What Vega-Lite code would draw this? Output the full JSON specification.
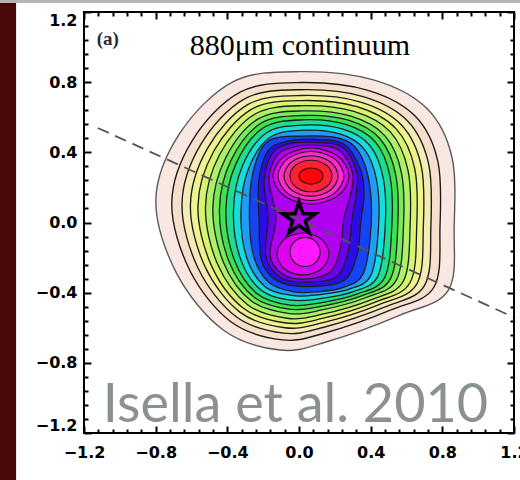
{
"$schema":"https://vega.github.io/schema/vega-lite/v6.json",
"autosize":{"type":"none"},
"width":430,"height":421,
"padding":{"left":84,"top":12,"right":6,"bottom":47},
"background":"white",
"config":{"view":{"stroke":"black","strokeWidth":2},"axis":{"grid":false}},
"datasets":{
"decor":[{"part":"strip","x0":-1.67,"x1":-1.579,"y0":1.2514,"y1":-1.47},{"part":"band","x0":-1.67,"x1":1.3,"y0":1.2685,"y1":1.2514}],
"contours":[
{"k":"L01","i":1,"x":0.006,"y":0.86},{"k":"L01","i":2,"x":0.415,"y":0.813},{"k":"L01","i":3,"x":0.713,"y":0.651},{"k":"L01","i":4,"x":0.853,"y":0.375},{"k":"L01","i":5,"x":0.866,"y":-0.024},{"k":"L01","i":6,"x":0.834,"y":-0.385},{"k":"L01","i":7,"x":0.564,"y":-0.528},{"k":"L01","i":8,"x":0.155,"y":-0.68},{"k":"L01","i":9,"x":-0.106,"y":-0.727},{"k":"L01","i":10,"x":-0.423,"y":-0.613},{"k":"L01","i":11,"x":-0.683,"y":-0.29},{"k":"L01","i":12,"x":-0.799,"y":0.128},{"k":"L01","i":13,"x":-0.665,"y":0.509},{"k":"L01","i":14,"x":-0.367,"y":0.803},
{"k":"L02","i":1,"x":0.009,"y":0.798},{"k":"L02","i":2,"x":0.38,"y":0.755},{"k":"L02","i":3,"x":0.648,"y":0.607},{"k":"L02","i":4,"x":0.775,"y":0.349},{"k":"L02","i":5,"x":0.787,"y":-0.024},{"k":"L02","i":6,"x":0.753,"y":-0.369},{"k":"L02","i":7,"x":0.51,"y":-0.5},{"k":"L02","i":8,"x":0.145,"y":-0.63},{"k":"L02","i":9,"x":-0.093,"y":-0.669},{"k":"L02","i":10,"x":-0.38,"y":-0.566},{"k":"L02","i":11,"x":-0.61,"y":-0.272},{"k":"L02","i":12,"x":-0.71,"y":0.115},{"k":"L02","i":13,"x":-0.594,"y":0.47},{"k":"L02","i":14,"x":-0.329,"y":0.743},
{"k":"L03","i":1,"x":0.011,"y":0.757},{"k":"L03","i":2,"x":0.358,"y":0.718},{"k":"L03","i":3,"x":0.606,"y":0.579},{"k":"L03","i":4,"x":0.724,"y":0.332},{"k":"L03","i":5,"x":0.736,"y":-0.024},{"k":"L03","i":6,"x":0.701,"y":-0.358},{"k":"L03","i":7,"x":0.476,"y":-0.483},{"k":"L03","i":8,"x":0.139,"y":-0.597},{"k":"L03","i":9,"x":-0.085,"y":-0.631},{"k":"L03","i":10,"x":-0.352,"y":-0.536},{"k":"L03","i":11,"x":-0.563,"y":-0.261},{"k":"L03","i":12,"x":-0.653,"y":0.107},{"k":"L03","i":13,"x":-0.548,"y":0.445},{"k":"L03","i":14,"x":-0.304,"y":0.705},
{"k":"L04","i":1,"x":0.013,"y":0.724},{"k":"L04","i":2,"x":0.339,"y":0.688},{"k":"L04","i":3,"x":0.572,"y":0.556},{"k":"L04","i":4,"x":0.683,"y":0.319},{"k":"L04","i":5,"x":0.694,"y":-0.024},{"k":"L04","i":6,"x":0.658,"y":-0.35},{"k":"L04","i":7,"x":0.447,"y":-0.468},{"k":"L04","i":8,"x":0.134,"y":-0.571},{"k":"L04","i":9,"x":-0.079,"y":-0.6},{"k":"L04","i":10,"x":-0.33,"y":-0.511},{"k":"L04","i":11,"x":-0.525,"y":-0.251},{"k":"L04","i":12,"x":-0.606,"y":0.1},{"k":"L04","i":13,"x":-0.51,"y":0.424},{"k":"L04","i":14,"x":-0.284,"y":0.673},
{"k":"L05","i":1,"x":0.014,"y":0.695},{"k":"L05","i":2,"x":0.323,"y":0.66},{"k":"L05","i":3,"x":0.541,"y":0.535},{"k":"L05","i":4,"x":0.646,"y":0.307},{"k":"L05","i":5,"x":0.657,"y":-0.024},{"k":"L05","i":6,"x":0.62,"y":-0.342},{"k":"L05","i":7,"x":0.422,"y":-0.455},{"k":"L05","i":8,"x":0.13,"y":-0.547},{"k":"L05","i":9,"x":-0.073,"y":-0.573},{"k":"L05","i":10,"x":-0.31,"y":-0.489},{"k":"L05","i":11,"x":-0.49,"y":-0.243},{"k":"L05","i":12,"x":-0.564,"y":0.094},{"k":"L05","i":13,"x":-0.476,"y":0.406},{"k":"L05","i":14,"x":-0.266,"y":0.645},
{"k":"L06","i":1,"x":0.016,"y":0.666},{"k":"L06","i":2,"x":0.306,"y":0.633},{"k":"L06","i":3,"x":0.511,"y":0.515},{"k":"L06","i":4,"x":0.609,"y":0.294},{"k":"L06","i":5,"x":0.62,"y":-0.024},{"k":"L06","i":6,"x":0.582,"y":-0.335},{"k":"L06","i":7,"x":0.397,"y":-0.442},{"k":"L06","i":8,"x":0.125,"y":-0.524},{"k":"L06","i":9,"x":-0.067,"y":-0.546},{"k":"L06","i":10,"x":-0.289,"y":-0.467},{"k":"L06","i":11,"x":-0.456,"y":-0.234},{"k":"L06","i":12,"x":-0.522,"y":0.088},{"k":"L06","i":13,"x":-0.443,"y":0.388},{"k":"L06","i":14,"x":-0.248,"y":0.617},
{"k":"L07","i":1,"x":0.017,"y":0.636},{"k":"L07","i":2,"x":0.29,"y":0.606},{"k":"L07","i":3,"x":0.48,"y":0.494},{"k":"L07","i":4,"x":0.572,"y":0.282},{"k":"L07","i":5,"x":0.583,"y":-0.024},{"k":"L07","i":6,"x":0.544,"y":-0.327},{"k":"L07","i":7,"x":0.371,"y":-0.429},{"k":"L07","i":8,"x":0.121,"y":-0.5},{"k":"L07","i":9,"x":-0.061,"y":-0.518},{"k":"L07","i":10,"x":-0.269,"y":-0.445},{"k":"L07","i":11,"x":-0.422,"y":-0.226},{"k":"L07","i":12,"x":-0.481,"y":0.082},{"k":"L07","i":13,"x":-0.409,"y":0.369},{"k":"L07","i":14,"x":-0.23,"y":0.589},
{"k":"L08","i":1,"x":0.018,"y":0.61},{"k":"L08","i":2,"x":0.276,"y":0.583},{"k":"L08","i":3,"x":0.453,"y":0.476},{"k":"L08","i":4,"x":0.54,"y":0.272},{"k":"L08","i":5,"x":0.551,"y":-0.024},{"k":"L08","i":6,"x":0.511,"y":-0.32},{"k":"L08","i":7,"x":0.349,"y":-0.418},{"k":"L08","i":8,"x":0.117,"y":-0.479},{"k":"L08","i":9,"x":-0.056,"y":-0.494},{"k":"L08","i":10,"x":-0.252,"y":-0.425},{"k":"L08","i":11,"x":-0.392,"y":-0.219},{"k":"L08","i":12,"x":-0.444,"y":0.076},{"k":"L08","i":13,"x":-0.38,"y":0.353},{"k":"L08","i":14,"x":-0.215,"y":0.564},
{"k":"L09","i":1,"x":0.02,"y":0.585},{"k":"L09","i":2,"x":0.261,"y":0.559},{"k":"L09","i":3,"x":0.427,"y":0.458},{"k":"L09","i":4,"x":0.508,"y":0.261},{"k":"L09","i":5,"x":0.518,"y":-0.024},{"k":"L09","i":6,"x":0.478,"y":-0.314},{"k":"L09","i":7,"x":0.327,"y":-0.407},{"k":"L09","i":8,"x":0.113,"y":-0.459},{"k":"L09","i":9,"x":-0.051,"y":-0.471},{"k":"L09","i":10,"x":-0.234,"y":-0.406},{"k":"L09","i":11,"x":-0.362,"y":-0.211},{"k":"L09","i":12,"x":-0.408,"y":0.071},{"k":"L09","i":13,"x":-0.351,"y":0.337},{"k":"L09","i":14,"x":-0.199,"y":0.54},
{"k":"L10","i":1,"x":0.021,"y":0.555},{"k":"L10","i":2,"x":0.245,"y":0.532},{"k":"L10","i":3,"x":0.396,"y":0.438},{"k":"L10","i":4,"x":0.471,"y":0.249},{"k":"L10","i":5,"x":0.481,"y":-0.024},{"k":"L10","i":6,"x":0.44,"y":-0.306},{"k":"L10","i":7,"x":0.302,"y":-0.394},{"k":"L10","i":8,"x":0.109,"y":-0.435},{"k":"L10","i":9,"x":-0.045,"y":-0.443},{"k":"L10","i":10,"x":-0.214,"y":-0.384},{"k":"L10","i":11,"x":-0.328,"y":-0.203},{"k":"L10","i":12,"x":-0.366,"y":0.065},{"k":"L10","i":13,"x":-0.317,"y":0.319},{"k":"L10","i":14,"x":-0.181,"y":0.512},
{"k":"L11","i":1,"x":0.022,"y":0.526},{"k":"L11","i":2,"x":0.228,"y":0.505},{"k":"L11","i":3,"x":0.365,"y":0.417},{"k":"L11","i":4,"x":0.434,"y":0.237},{"k":"L11","i":5,"x":0.444,"y":-0.024},{"k":"L11","i":6,"x":0.402,"y":-0.299},{"k":"L11","i":7,"x":0.276,"y":-0.381},{"k":"L11","i":8,"x":0.104,"y":-0.412},{"k":"L11","i":9,"x":-0.039,"y":-0.416},{"k":"L11","i":10,"x":-0.194,"y":-0.362},{"k":"L11","i":11,"x":-0.294,"y":-0.194},{"k":"L11","i":12,"x":-0.324,"y":0.059},{"k":"L11","i":13,"x":-0.284,"y":0.301},{"k":"L11","i":14,"x":-0.163,"y":0.484},
{"k":"L12","i":1,"x":0.024,"y":0.493},{"k":"L12","i":2,"x":0.23,"y":0.48},{"k":"L12","i":3,"x":0.335,"y":0.4},{"k":"L12","i":4,"x":0.393,"y":0.223},{"k":"L12","i":5,"x":0.402,"y":-0.024},{"k":"L12","i":6,"x":0.359,"y":-0.29},{"k":"L12","i":7,"x":0.248,"y":-0.37},{"k":"L12","i":8,"x":0.099,"y":-0.395},{"k":"L12","i":9,"x":-0.032,"y":-0.395},{"k":"L12","i":10,"x":-0.171,"y":-0.34},{"k":"L12","i":11,"x":-0.255,"y":-0.185},{"k":"L12","i":12,"x":-0.277,"y":0.052},{"k":"L12","i":13,"x":-0.255,"y":0.295},{"k":"L12","i":14,"x":-0.17,"y":0.465},
{"k":"L13","i":1,"x":0.067,"y":0.475},{"k":"L13","i":2,"x":0.25,"y":0.448},{"k":"L13","i":3,"x":0.345,"y":0.3},{"k":"L13","i":4,"x":0.363,"y":0.151},{"k":"L13","i":5,"x":0.346,"y":0.014},{"k":"L13","i":6,"x":0.324,"y":-0.185},{"k":"L13","i":7,"x":0.246,"y":-0.334},{"k":"L13","i":8,"x":0.034,"y":-0.365},{"k":"L13","i":9,"x":-0.125,"y":-0.33},{"k":"L13","i":10,"x":-0.21,"y":-0.215},{"k":"L13","i":11,"x":-0.223,"y":0.014},{"k":"L13","i":12,"x":-0.225,"y":0.235},{"k":"L13","i":13,"x":-0.175,"y":0.405},{"k":"L13","i":14,"x":-0.08,"y":0.46},
{"k":"L14","i":1,"x":0.067,"y":0.458},{"k":"L14","i":2,"x":0.24,"y":0.432},{"k":"L14","i":3,"x":0.322,"y":0.29},{"k":"L14","i":4,"x":0.318,"y":0.151},{"k":"L14","i":5,"x":0.296,"y":0.026},{"k":"L14","i":6,"x":0.274,"y":-0.168},{"k":"L14","i":7,"x":0.207,"y":-0.311},{"k":"L14","i":8,"x":0.034,"y":-0.34},{"k":"L14","i":9,"x":-0.105,"y":-0.312},{"k":"L14","i":10,"x":-0.185,"y":-0.19},{"k":"L14","i":11,"x":-0.173,"y":0.026},{"k":"L14","i":12,"x":-0.195,"y":0.24},{"k":"L14","i":13,"x":-0.15,"y":0.392},{"k":"L14","i":14,"x":-0.067,"y":0.445},
{"k":"L15","i":1,"x":0.067,"y":0.44},{"k":"L15","i":2,"x":0.22,"y":0.415},{"k":"L15","i":3,"x":0.3,"y":0.28},{"k":"L15","i":4,"x":0.285,"y":0.151},{"k":"L15","i":5,"x":0.251,"y":0.026},{"k":"L15","i":6,"x":0.229,"y":-0.157},{"k":"L15","i":7,"x":0.173,"y":-0.282},{"k":"L15","i":8,"x":0.034,"y":-0.322},{"k":"L15","i":9,"x":-0.09,"y":-0.295},{"k":"L15","i":10,"x":-0.162,"y":-0.185},{"k":"L15","i":11,"x":-0.128,"y":0.026},{"k":"L15","i":12,"x":-0.168,"y":0.242},{"k":"L15","i":13,"x":-0.128,"y":0.375},{"k":"L15","i":14,"x":-0.05,"y":0.425},
{"k":"L16U","i":1,"x":0.279,"y":0.265},{"k":"L16U","i":2,"x":0.217,"y":0.378},{"k":"L16U","i":3,"x":0.067,"y":0.425},{"k":"L16U","i":4,"x":-0.083,"y":0.378},{"k":"L16U","i":5,"x":-0.145,"y":0.265},{"k":"L16U","i":6,"x":-0.083,"y":0.152},{"k":"L16U","i":7,"x":0.067,"y":0.105},{"k":"L16U","i":8,"x":0.217,"y":0.152},
{"k":"L17U","i":1,"x":0.251,"y":0.265},{"k":"L17U","i":2,"x":0.197,"y":0.364},{"k":"L17U","i":3,"x":0.067,"y":0.405},{"k":"L17U","i":4,"x":-0.063,"y":0.364},{"k":"L17U","i":5,"x":-0.117,"y":0.265},{"k":"L17U","i":6,"x":-0.063,"y":0.166},{"k":"L17U","i":7,"x":0.067,"y":0.125},{"k":"L17U","i":8,"x":0.197,"y":0.166},
{"k":"L18U","i":1,"x":0.218,"y":0.265},{"k":"L18U","i":2,"x":0.174,"y":0.346},{"k":"L18U","i":3,"x":0.067,"y":0.38},{"k":"L18U","i":4,"x":-0.04,"y":0.346},{"k":"L18U","i":5,"x":-0.084,"y":0.265},{"k":"L18U","i":6,"x":-0.04,"y":0.184},{"k":"L18U","i":7,"x":0.067,"y":0.15},{"k":"L18U","i":8,"x":0.174,"y":0.184},
{"k":"L19U","i":1,"x":0.184,"y":0.265},{"k":"L19U","i":2,"x":0.15,"y":0.329},{"k":"L19U","i":3,"x":0.067,"y":0.355},{"k":"L19U","i":4,"x":-0.016,"y":0.329},{"k":"L19U","i":5,"x":-0.05,"y":0.265},{"k":"L19U","i":6,"x":-0.016,"y":0.201},{"k":"L19U","i":7,"x":0.067,"y":0.175},{"k":"L19U","i":8,"x":0.15,"y":0.201},
{"k":"L20U","i":1,"x":0.134,"y":0.265},{"k":"L20U","i":2,"x":0.114,"y":0.298},{"k":"L20U","i":3,"x":0.067,"y":0.311},{"k":"L20U","i":4,"x":0.02,"y":0.298},{"k":"L20U","i":5,"x":0.0,"y":0.265},{"k":"L20U","i":6,"x":0.02,"y":0.232},{"k":"L20U","i":7,"x":0.067,"y":0.219},{"k":"L20U","i":8,"x":0.114,"y":0.232},
{"k":"L16L","i":1,"x":0.167,"y":-0.18},{"k":"L16L","i":2,"x":0.125,"y":-0.095},{"k":"L16L","i":3,"x":0.022,"y":-0.06},{"k":"L16L","i":4,"x":-0.081,"y":-0.095},{"k":"L16L","i":5,"x":-0.123,"y":-0.18},{"k":"L16L","i":6,"x":-0.081,"y":-0.265},{"k":"L16L","i":7,"x":0.022,"y":-0.3},{"k":"L16L","i":8,"x":0.125,"y":-0.265},
{"k":"L17L","i":1,"x":0.118,"y":-0.168},{"k":"L17L","i":2,"x":0.093,"y":-0.109},{"k":"L17L","i":3,"x":0.034,"y":-0.085},{"k":"L17L","i":4,"x":-0.025,"y":-0.109},{"k":"L17L","i":5,"x":-0.05,"y":-0.168},{"k":"L17L","i":6,"x":-0.025,"y":-0.227},{"k":"L17L","i":7,"x":0.034,"y":-0.251},{"k":"L17L","i":8,"x":0.093,"y":-0.227}
],
"dash":[{"x":-1.123,"y":0.539},{"x":1.196,"y":-0.539}],
"star":[{"x":0.0,"y":0.02}]
},
"layer":[
{"data":{"name":"decor"},
 "mark":{"type":"rect"},
 "encoding":{
  "x":{"field":"x0","type":"quantitative","scale":{"domain":[-1.2,1.2],"nice":false,"zero":false},
       "axis":{"orient":"bottom","values":[-1.2,-0.8,-0.4,0,0.4,0.8,1.2],"format":".1f","ticks":false,"domain":false,"labelFont":"DejaVu Sans","labelFontWeight":"bold","labelFontSize":16,"labelColor":"black","labelPadding":11,"labelFlush":false,"labelOverlap":false,"labelBound":false,"title":null}},
  "x2":{"field":"x1"},
  "y":{"field":"y0","type":"quantitative","scale":{"domain":[-1.2,1.2],"nice":false,"zero":false},
       "axis":{"orient":"left","values":[-1.2,-0.8,-0.4,0,0.4,0.8,1.2],"format":".1f","ticks":false,"domain":false,"labelFont":"DejaVu Sans","labelFontWeight":"bold","labelFontSize":16,"labelColor":"black","labelPadding":7,"labelFlush":true,"labelFlushOffset":0,"labelOverlap":false,"labelBound":false,"title":null}},
  "y2":{"field":"y1"},
  "color":{"field":"part","type":"nominal","scale":{"domain":["strip","band"],"range":["#4a0909","#b5b5b5"]},"legend":null}
 }},
{"data":{"name":"contours"},
 "mark":{"type":"line","interpolate":"cardinal-closed","filled":true},
 "encoding":{
  "x":{"field":"x","type":"quantitative","scale":{"domain":[-1.2,1.2],"nice":false,"zero":false},
       "axis":{"orient":"bottom","values":[-1.2,-0.8,-0.4,0,0.4,0.8,1.2],"labels":false,"domain":false,"tickSize":-7,"tickWidth":2,"tickColor":"black","title":null}},
  "y":{"field":"y","type":"quantitative","scale":{"domain":[-1.2,1.2],"nice":false,"zero":false},
       "axis":{"orient":"left","values":[-1.2,-0.8,-0.4,0,0.4,0.8,1.2],"labels":false,"domain":false,"tickSize":-7,"tickWidth":2,"tickColor":"black","title":null}},
  "order":{"field":"i","type":"quantitative"},
  "detail":{"field":"k"},
  "fill":{"field":"k","type":"ordinal","scale":{"domain":["L01","L02","L03","L04","L05","L06","L07","L08","L09","L10","L11","L12","L13","L14","L15","L16U","L17U","L18U","L19U","L20U","L16L","L17L"],"range":["#f8e8e1","#f6dfcb","#f4ecb4","#f0f28e","#d6f470","#aef06a","#78ea5c","#3fe24c","#1edc90","#16dcdc","#1f9cf4","#1444f4","#2a0ce4","#6a00ec","#b000f0","#e400f0","#ff2ad2","#ff2a96","#ff2234","#f80808","#e000f0","#ff18ff"]},"legend":null},
  "stroke":{"field":"k","type":"ordinal","scale":{"domain":["L01","L02","L03","L04","L05","L06","L07","L08","L09","L10","L11","L12","L13","L14","L15","L16U","L17U","L18U","L19U","L20U","L16L","L17L"],"range":["#5a5a5a","#1e1e1e","#1e1e1e","#1e1e1e","#1e1e1e","#1e1e1e","#1e1e1e","#1e1e1e","#1e1e1e","#1e1e1e","#1e1e1e","#1e1e1e","#1e1e1e","#1e1e1e","#1e1e1e","#1e1e1e","#1e1e1e","#1e1e1e","#1e1e1e","#500000","#1e1e1e","#1e1e1e"]},"legend":null},
  "size":{"field":"k","type":"ordinal","scale":{"domain":["L01","L02","L03","L04","L05","L06","L07","L08","L09","L10","L11","L12","L13","L14","L15","L16U","L17U","L18U","L19U","L20U","L16L","L17L"],"range":[1.4,1.1,1.1,1.1,1.1,1.1,1.1,1.1,1.1,1.1,1.1,1.1,1.1,1.1,1.1,1.1,1.1,1.1,1.1,2.6,1.1,1.1]},"legend":null}
 }},
{"data":{"name":"dash"},
 "mark":{"type":"line","stroke":"#555555","strokeWidth":1.8,"strokeDash":[12,7]},
 "encoding":{
  "x":{"field":"x","type":"quantitative","scale":{"domain":[-1.2,1.2],"nice":false,"zero":false},
       "axis":{"orient":"bottom","values":[-1.12,-1.04,-0.96,-0.88,-0.72,-0.64,-0.56,-0.48,-0.32,-0.24,-0.16,-0.08,0.08,0.16,0.24,0.32,0.48,0.56,0.64,0.72,0.88,0.96,1.04,1.12],"labels":false,"domain":false,"tickSize":-4,"tickWidth":2,"tickColor":"black","title":null}},
  "y":{"field":"y","type":"quantitative","scale":{"domain":[-1.2,1.2],"nice":false,"zero":false},
       "axis":{"orient":"left","values":[-1.12,-1.04,-0.96,-0.88,-0.72,-0.64,-0.56,-0.48,-0.32,-0.24,-0.16,-0.08,0.08,0.16,0.24,0.32,0.48,0.56,0.64,0.72,0.88,0.96,1.04,1.12],"labels":false,"domain":false,"tickSize":-4,"tickWidth":2,"tickColor":"black","title":null}}
 }},
{"data":{"name":"star"},
 "mark":{"type":"point","shape":"M0,-1L0.225,-0.309L0.951,-0.309L0.363,0.118L0.588,0.809L0,0.382L-0.588,0.809L-0.363,0.118L-0.951,-0.309L-0.225,-0.309Z","size":1200,"filled":false,"stroke":"black","strokeWidth":3.5,"opacity":1},
 "encoding":{
  "x":{"field":"x","type":"quantitative","scale":{"domain":[-1.2,1.2],"nice":false,"zero":false},
       "axis":{"orient":"top","values":[-1.2,-0.8,-0.4,0,0.4,0.8,1.2],"labels":false,"domain":false,"tickSize":-7,"tickWidth":2,"tickColor":"black","title":null}},
  "y":{"field":"y","type":"quantitative","scale":{"domain":[-1.2,1.2],"nice":false,"zero":false},
       "axis":{"orient":"right","values":[-1.2,-0.8,-0.4,0,0.4,0.8,1.2],"labels":false,"domain":false,"tickSize":-7,"tickWidth":2,"tickColor":"black","title":null}}
 }},
{"data":{"values":[{"t":"880μm continuum","x":0.005,"y":0.955}]},
 "mark":{"type":"text","font":"Liberation Serif","fontSize":30,"color":"black","align":"center","baseline":"alphabetic"},
 "encoding":{
  "x":{"field":"x","type":"quantitative","scale":{"domain":[-1.2,1.2],"nice":false,"zero":false},
       "axis":{"orient":"top","values":[-1.12,-1.04,-0.96,-0.88,-0.72,-0.64,-0.56,-0.48,-0.32,-0.24,-0.16,-0.08,0.08,0.16,0.24,0.32,0.48,0.56,0.64,0.72,0.88,0.96,1.04,1.12],"labels":false,"domain":false,"tickSize":-4,"tickWidth":2,"tickColor":"black","title":null}},
  "y":{"field":"y","type":"quantitative","scale":{"domain":[-1.2,1.2],"nice":false,"zero":false},
       "axis":{"orient":"right","values":[-1.12,-1.04,-0.96,-0.88,-0.72,-0.64,-0.56,-0.48,-0.32,-0.24,-0.16,-0.08,0.08,0.16,0.24,0.32,0.48,0.56,0.64,0.72,0.88,0.96,1.04,1.12],"labels":false,"domain":false,"tickSize":-4,"tickWidth":2,"tickColor":"black","title":null}},
  "text":{"field":"t"}
 }},
{"data":{"values":[{"t":"(a)","x":-1.067,"y":1.046}]},
 "mark":{"type":"text","font":"Liberation Serif","fontSize":19,"fontWeight":"bold","color":"#2a2a3a","align":"center","baseline":"middle"},
 "encoding":{
  "x":{"field":"x","type":"quantitative","scale":{"domain":[-1.2,1.2],"nice":false,"zero":false},"axis":null},
  "y":{"field":"y","type":"quantitative","scale":{"domain":[-1.2,1.2],"nice":false,"zero":false},"axis":null},
  "text":{"field":"t"}
 }},
{"data":{"values":[{"t":"Isella et al. 2010","x":-1.095,"y":-1.137}]},
 "mark":{"type":"text","font":"Lato","fontSize":54,"color":"#8b9093","align":"left","baseline":"alphabetic"},
 "encoding":{
  "x":{"field":"x","type":"quantitative","scale":{"domain":[-1.2,1.2],"nice":false,"zero":false},"axis":null},
  "y":{"field":"y","type":"quantitative","scale":{"domain":[-1.2,1.2],"nice":false,"zero":false},"axis":null},
  "text":{"field":"t"}
 }}
],
"resolve":{"axis":{"x":"independent","y":"independent"}}
}
